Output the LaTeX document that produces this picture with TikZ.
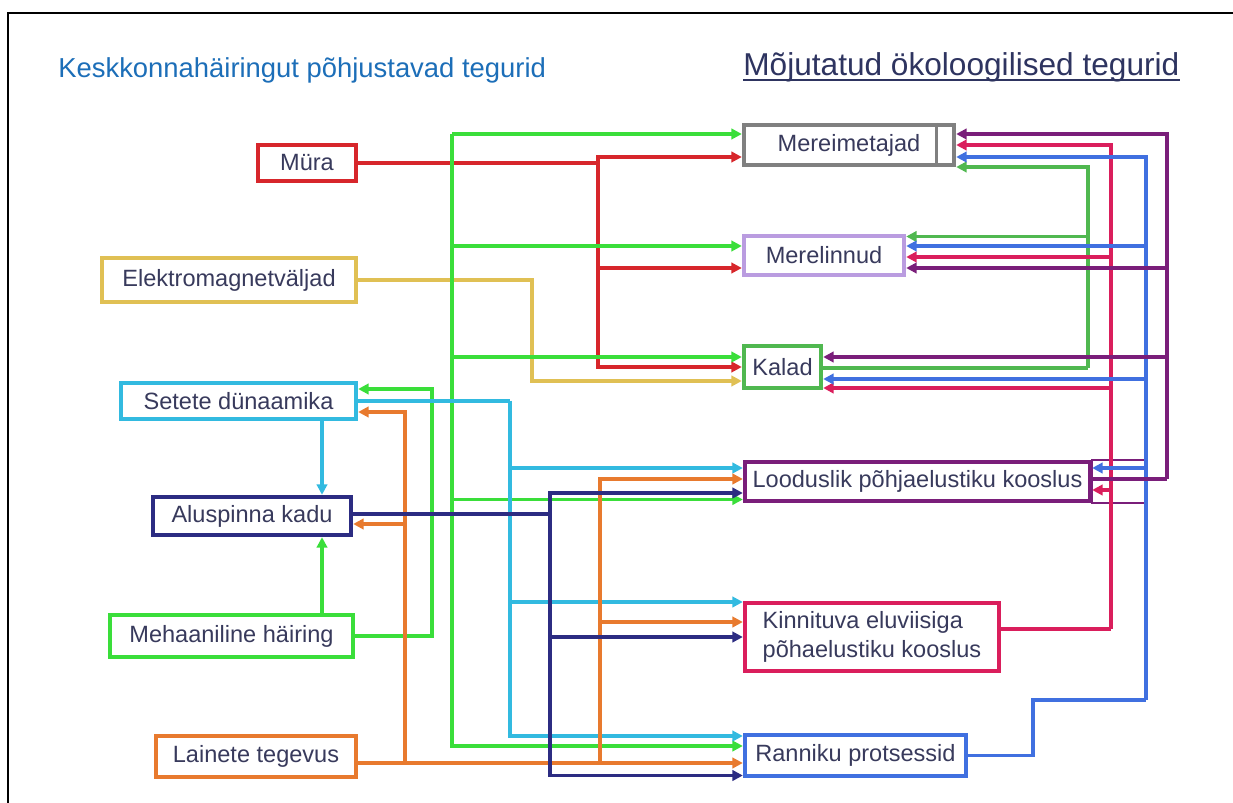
\documentclass[tikz,border=0pt]{standalone}
\usepackage{fontspec}
\setmainfont{Liberation Sans}
\usetikzlibrary{arrows.meta, calc}
\definecolor{txtcolor}{RGB}{56,58,92}
\definecolor{titleblue}{RGB}{28,110,184}
\definecolor{titlenavy}{RGB}{46,52,96}
\definecolor{noisered}{RGB}{215,38,43}
\definecolor{emgold}{RGB}{224,192,84}
\definecolor{sedcyan}{RGB}{50,186,224}
\definecolor{lossnavy}{RGB}{44,44,130}
\definecolor{mechgreen}{RGB}{58,222,58}
\definecolor{waveorange}{RGB}{232,122,46}
\definecolor{mamgrey}{RGB}{128,128,128}
\definecolor{birdlav}{RGB}{186,156,224}
\definecolor{fishgreen}{RGB}{80,184,80}
\definecolor{benthpurple}{RGB}{122,30,122}
\definecolor{sesscrimson}{RGB}{218,30,92}
\definecolor{coastblue}{RGB}{64,112,224}
\tikzset{
  box/.style   = {draw=#1, line width=2.5pt, fill=white, inner sep=2pt,
                  text=txtcolor, font=\fontsize{13.4}{16.4}\selectfont},
  link/.style  = {draw=#1, line width=2pt},
  arrow/.style = {link=#1, -{Triangle[length=6pt, width=6pt]}},
}

\begin{document}
\begin{tikzpicture}[x=0.02cm, y=-0.02cm]
  \useasboundingbox (0,0) rectangle (1233,803);
  % frame, open to the right and bottom
  \draw[line width=1.1pt] (8,803) -- (8,13) -- (1233,13);

  % headings
  \node[anchor=base west, inner sep=0pt, text=titleblue,
        font=\fontsize{15.6}{18}\selectfont] (lhead) at (58,78)
        {Keskkonnahäiringut põhjustavad tegurid};
  \node[anchor=base west, inner sep=0pt, text=titlenavy,
        font=\fontsize{18}{21}\selectfont] (rhead) at (743,76)
        {Mõjutatud ökoloogilised tegurid};
  \draw[titlenavy, line width=0.9pt] ([yshift=-2.2pt]rhead.base west) -- ([yshift=-2.2pt]rhead.base east);

  % disturbance factors
  \node[box=noisered,    minimum width=1.96cm, minimum height=0.72cm] (mura)    at (307,163)   {Müra};
  \node[box=emgold,      minimum width=5.08cm, minimum height=0.88cm] (elektro) at (229,280)   {Elektromagnetväljad};
  \node[box=sedcyan,     minimum width=4.70cm, minimum height=0.72cm] (setete)  at (238.5,401) {Setete dünaamika};
  \node[box=lossnavy,    minimum width=3.96cm, minimum height=0.76cm] (alus)    at (252,516)   {Aluspinna kadu};
  \node[box=mechgreen,   minimum width=4.86cm, minimum height=0.84cm] (meh)     at (231.5,636) {Mehaaniline häiring};
  \node[box=waveorange,  minimum width=4.00cm, minimum height=0.82cm] (laine)   at (256,756.5) {Lainete tegevus};

  % affected ecological factors
  \node[box=mamgrey,     minimum width=4.20cm, minimum height=0.80cm] (mam)     at (849,145)   {Mereimetajad};
  \node[box=birdlav,     minimum width=3.20cm, minimum height=0.78cm] (bird)    at (824,255.5) {Merelinnud};
  \node[box=fishgreen,   minimum width=1.54cm, minimum height=0.84cm] (fish)    at (782.5,367) {Kalad};
  \node[box=benthpurple, minimum width=6.90cm, minimum height=0.78cm] (benth)   at (917.5,481.5) {Looduslik põhjaelustiku kooslus};
  \node[box=sesscrimson, minimum width=5.08cm, minimum height=1.36cm, align=left] (sessile) at (872,637)
        {Kinnituva eluviisiga\\põhaelustiku kooslus};
  \node[box=coastblue,   minimum width=4.42cm, minimum height=0.82cm] (coast)   at (855.5,755.5) {Ranniku protsessid};

  % side cells of two boxes
  \draw[mamgrey, line width=1.6pt] ($(mam.north east)+(-20,0)$) -- ($(mam.south east)+(-20,0)$);
  \draw[benthpurple, line width=1.2pt] (benth.north east) rectangle ($(benth.south east)+(53,0)$);

  % fork points
  \coordinate (redfork)   at (598,163);
  \coordinate (goldbend)  at (532,280);
  \coordinate (greentop)  at (452,134);
  \coordinate (mechbend)  at (432,636);
  \coordinate (cyanfork)  at (510,401);
  \coordinate (wavefork)  at (405,763);
  \coordinate (wavefork2) at (600,763);
  \coordinate (lossfork)  at (550,514);
  \coordinate (fishfork)  at (1088,368);
  \coordinate (sessfork)  at (1111,629);
  \coordinate (coastbend) at (1033,700);
  \coordinate (coastfork) at (1146,700);
  \coordinate (benthfork) at (1167,479);

  % noise
  \draw[link=noisered] (mura.east) -- (redfork);
  \foreach \n/\d in {mam/12, bird/12.5, fish/0}
    \draw[arrow=noisered] (redfork) |- ($(\n.west)+(0,\d)$);
  % electromagnetic fields
  \draw[arrow=emgold] (elektro.east) -- (goldbend) |- ($(fish.west)+(0,14)$);
  % mechanical disturbance
  \foreach \n/\d in {mam/-11, bird/-9.5, fish/-10, benth/18, coast/-9.5}
    \draw[arrow=mechgreen] (greentop) |- ($(\n.west)+(0,\d)$);
  \draw[arrow=mechgreen] (meh.east) -- (mechbend) |- ($(setete.east)+(0,-12)$);
  \draw[arrow=mechgreen] ($(meh.north)+(90.5,0)$) -- ($(alus.south)+(70,0)$);
  % sediment dynamics
  \draw[arrow=sedcyan] ($(setete.south)+(83.5,0)$) -- ($(alus.north)+(70,0)$);
  \draw[link=sedcyan] (setete.east) -- (cyanfork);
  \foreach \n/\d in {benth/-13.5, sessile/-35, coast/-19.5}
    \draw[arrow=sedcyan] (cyanfork) |- ($(\n.west)+(0,\d)$);
  % waves
  \draw[arrow=waveorange] ($(laine.east)+(0,6.5)$) -- ($(coast.west)+(0,7.5)$);
  \foreach \n/\d in {setete/11, alus/8}
    \draw[arrow=waveorange] (wavefork) |- ($(\n.east)+(0,\d)$);
  \foreach \n/\d in {benth/-2.5, sessile/-15}
    \draw[arrow=waveorange] (wavefork2) |- ($(\n.west)+(0,\d)$);
  % loss of substrate
  \draw[link=lossnavy] ($(alus.east)+(0,-2)$) -- (lossfork);
  \foreach \n/\d in {benth/11.5, sessile/0, coast/20}
    \draw[arrow=lossnavy] (lossfork) |- ($(\n.west)+(0,\d)$);

  % feedback between the ecological factors
  \draw[link=fishgreen] ($(fish.east)+(0,1)$) -- (fishfork);
  \foreach \n/\d in {mam/22, bird/-19}
    \draw[arrow=fishgreen] (fishfork) |- ($(\n.east)+(0,\d)$);
  \draw[link=sesscrimson] ($(sessile.east)+(0,-8)$) -- (sessfork);
  \foreach \n/\d in {mam/0, bird/1.5, fish/21, benth/8.5}
    \draw[arrow=sesscrimson] (sessfork) |- ($(\n.east)+(0,\d)$);
  \draw[link=coastblue] (coast.east) -| (coastbend) -- (coastfork);
  \foreach \n/\d in {mam/12, bird/-9.5, fish/12, benth/-13.5}
    \draw[arrow=coastblue] (coastfork) |- ($(\n.east)+(0,\d)$);
  \draw[link=benthpurple] ($(benth.east)+(0,-2.5)$) -- (benthfork);
  \foreach \n/\d in {mam/-11, bird/12.5, fish/-10}
    \draw[arrow=benthpurple] (benthfork) |- ($(\n.east)+(0,\d)$);
\end{tikzpicture}
\end{document}
